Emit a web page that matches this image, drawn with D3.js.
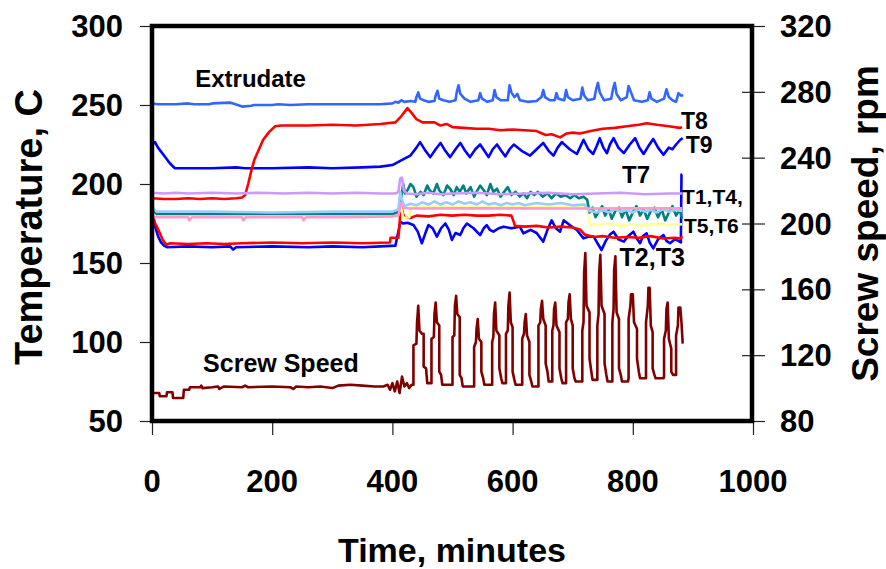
<!DOCTYPE html>
<html><head><meta charset="utf-8">
<script src="https://cdn.jsdelivr.net/npm/d3@7/dist/d3.min.js"></script>
<style>body{margin:0;background:#fff}svg{display:block}text{font-family:"Liberation Sans",Arial,sans-serif;font-weight:bold;fill:#000}</style>
</head><body><svg id="c" width="886" height="569"></svg>
<script>
// ---- data (minutes, value) ----
const xTicks = [0, 200, 400, 600, 800, 1000];
const tempTicks = [50, 100, 150, 200, 250, 300];
const speedTicks = [80, 120, 160, 200, 240, 280, 320];

const extrudate = [[0,251],[10,250.5],[40,250.5],[60,251],[70,250.5],[95,250.5],[100,251],[130,251.5],[135,251],[150,249],[165,249.5],[170,250],[200,250],[210,250.5],[230,250],[260,250.5],[300,250.5],[340,250.5],[380,250.5],[400,251],[405,252],[410,251.5],[415,253],[420,252],[430,252.5],[438,252],[440,255],[443,258],[446,254],[452,253],[460,252],[470,252.5],[472,256],[475,259],[478,254],[485,253],[495,252],[505,253],[507,258],[510,262.5],[513,257],[520,254],[530,252],[543,253],[546,257.5],[549,254],[558,252],[567,253],[570,259.5],[573,255],[580,253],[592,253],[595,262.5],[598,258],[603,255],[608,257],[612,253],[625,252],[640,252.5],[648,255],[651,259.5],[654,255],[662,253],[670,253],[673,257.5],[676,254],[686,253],[689,259.5],[692,255],[700,253],[713,254],[716,261],[719,256],[725,253],[736,254],[739,260],[742,264],[745,258],[752,253],[764,254],[767,260],[770,264],[773,257],[780,253],[790,255],[793,262],[797,258],[802,253],[815,252],[825,253],[828,258],[831,254],[840,252],[852,254],[856,260],[860,255],[866,253],[872,252],[876,257.5],[880,256],[884,256]];

const t8 = [[0,191],[20,190.5],[40,190.5],[60,191],[80,190.5],[100,191],[120,190.5],[140,191],[150,191.5],[155,193],[160,200],[165,208],[170,215],[178,222],[185,228],[195,233],[205,236.5],[215,237],[260,237],[300,237.5],[340,237],[380,238],[405,239],[415,243],[425,248],[432,245],[440,241],[450,239],[470,239],[480,237],[490,238],[500,236],[518,235.5],[540,235],[560,235],[580,234],[600,234.5],[620,234],[640,233.5],[655,231],[665,231.5],[679,229.5],[690,232],[700,232.5],[712,232],[730,233.5],[750,235],[770,235.5],[790,236.5],[810,237.5],[823,238.5],[840,237.5],[860,236.5],[878,235.5],[882,236]];

const t9 = [[0,221],[2,226],[5,226.5],[10,223],[20,218],[30,213],[38,210],[60,210],[100,210],[140,210.5],[155,210],[200,210],[260,210.5],[300,210],[350,210.5],[380,211],[400,212],[410,214],[420,216],[430,218],[440,223],[446,226.5],[455,221],[463,217],[472,222],[480,226],[488,221],[496,217],[505,222],[513,226],[521,221],[529,217],[538,222],[546,225],[553,221],[560,217],[567,222],[574,225],[581,221],[588,217.5],[595,222],[602,225],[615,221],[629,218],[640,222],[651,226],[660,221],[668,218],[675,223],[682,226.5],[695,222],[707,219],[712,223],[718,228],[726,222],[734,219],[740,224],[745,229],[751,223],[757,219.5],[762,225],[768,229],[776,223],[785,219.5],[795,225],[804,229],[811,223],[818,219],[826,224],[834,228.5],[842,223],[851,218.5],[860,223],[866,222],[872,225],[879,228],[883,229]];

const t7 = [[0,194.5],[20,194],[40,194.5],[60,194],[100,194.5],[140,194],[180,194.5],[220,194],[260,194.5],[300,194],[340,194.5],[380,194],[405,194],[410,195],[413,203.5],[416,204],[419,196],[424,194],[440,193.5],[460,194.5],[480,193.5],[500,194],[540,194.5],[580,193.5],[620,194],[660,194.5],[700,193.5],[740,194],[780,194.5],[820,193.5],[860,194],[882,194]];

const t1 = [[0,187],[3,183],[8,181],[100,181],[200,181],[300,181],[400,181],[408,182],[412,186],[415,192],[418,200],[421,194],[425,196],[430,200],[435,198],[440,192],[447,195],[452,193],[458,199],[462,196],[468,194],[474,200],[478,196],[485,193],[491,199],[496,197],[502,193],[507,198],[512,195],[518,199],[523,194],[530,198],[536,192],[540,195],[546,199],[552,196],[557,193],[563,200],[568,195],[574,197],[580,192],[586,195],[592,198],[598,193],[605,195],[612,192],[618,194],[624,191],[630,195],[636,193],[642,195],[650,192],[658,194],[665,191],[672,194],[680,192],[688,193],[696,191],[703,193],[710,191],[718,192],[724,190],[728,182],[733,185],[738,179],[744,183],[749,186],[754,180],[760,184],[765,178],[771,183],[777,185],[782,179],[788,184],[794,177],[800,182],[806,186],[812,180],[818,184],[824,178],[830,183],[836,185],[842,179],[848,184],[854,177],[860,182],[866,186],[872,180],[878,184],[882,178]];

const t4 = [[0,186],[3,184],[8,182.5],[100,182.5],[200,182],[300,182.5],[400,182.5],[410,184],[413,195],[416,190],[420,186],[430,187.5],[440,186.5],[450,188.5],[460,187],[470,189],[480,187],[490,188.5],[500,187],[510,189],[520,187.5],[530,188.5],[540,187],[550,189],[560,187],[570,188],[580,186.5],[590,188],[600,187],[610,188],[620,186.5],[640,188],[660,187],[680,188],[700,186.5],[720,187],[727,183],[740,182],[750,183.5],[760,182],[770,184],[780,182.5],[790,183.5],[800,182],[810,184],[820,182.5],[830,183.5],[840,182],[850,184],[860,182.5],[870,183.5],[882,183]];

const t5 = [[0,179],[60,179],[62,177],[66,179],[150,179],[152,177],[156,179],[250,179],[252,177],[256,179],[330,179],[400,179.5],[410,180],[414,188],[418,185],[430,184.5],[500,184.6],[600,184.6],[700,184.5],[800,184.6],[882,184.6]];

const t6 = [[0,181],[100,180.5],[200,181],[300,180.5],[400,181],[410,182],[414,186],[418,178.5],[428,179],[432,185.5],[500,185.5],[600,185.5],[700,185.5],[724,185],[728,175],[740,174],[760,175],[780,173.5],[800,174.5],[820,173.5],[840,175],[860,174],[882,174.5]];

const t2 = [[0,179],[4,176],[8,173],[14,168],[18,164.5],[24,161.5],[30,162.5],[60,162],[90,162.5],[120,162],[150,162.5],[200,163],[250,162.5],[300,163],[350,162.5],[396,163],[397,166],[410,166],[412,175],[414,188],[417,182],[420,179],[430,178.5],[440,180],[460,179.5],[480,180.5],[500,180],[520,180.5],[540,180],[560,180],[580,180.5],[598,180],[601,177],[604,173.5],[620,173],[640,173.5],[660,172.5],[680,173],[700,172.5],[713,171],[720,168],[735,166.5],[750,167],[770,166],[790,166.5],[810,166],[830,167],[850,165.5],[870,166],[880,165.5],[882,167]];

const t3 = [[0,182],[3,178],[6,172],[10,167],[15,163],[20,161],[25,160],[60,160.5],[100,160],[130,160.5],[135,158.5],[140,160],[200,160.5],[260,160],[300,160.5],[350,160],[380,160.5],[405,161],[410,170],[413,176],[418,175],[425,175.5],[435,174],[442,170],[449,162.5],[454,168],[460,174],[467,172],[474,166.7],[481,172],[488,175],[494,171],[499,164.6],[505,169],[513,167.7],[518,172],[524,175],[535,172],[546,167.7],[552,172],[557,174],[562,171],[568,169.8],[577,172],[585,173],[598,172],[612,173],[618,168.8],[630,171],[640,169],[651,163.5],[658,171],[665,177],[672,172],[679,169.8],[685,177],[695,174],[707,170.9],[718,165.6],[727,166.7],[735,166.7],[742,162],[748,158.2],[755,164],[762,168],[768,169.8],[776,165],[785,163.5],[792,167],[801,169.8],[806,166],[812,162.5],[817,167],[823,168.8],[828,163],[834,159.3],[842,165],[851,167.7],[856,164],[862,162.5],[870,165],[876,164],[880,163],[881,206],[882,206]];

const screwSpeed = [[0,97],[12,97],[13,95],[24,95],[25,97.5],[34,97.5],[35,94],[52,94],[53,99],[62,99],[63,100.5],[80,100.5],[82,101.5],[84,100],[100,100.5],[110,101],[112,99.5],[120,101],[150,100.5],[155,101.5],[160,100.5],[200,101],[230,100.5],[235,99.5],[240,101],[260,100.5],[280,101],[300,100],[310,101.5],[330,102],[350,101.5],[370,101],[385,101],[392,102],[396,99],[400,103],[404,98],[408,104],[412,97],[416,107],[420,101],[424,103],[428,100],[432,102],
[435,102],[435,126],[440,127],[441,140],[443,150],[445,135],[449,133],[452,133],[452,113],[456,112],[458,103],[464,103],
[465,103],[465,130],[469,131],[470,145],[472,152],[474,140],[478,138],[478,110],[481,108],[483,102],[499,102],
[500,102],[500,131],[503,132],[504,150],[506,156],[508,145],[512,143],[512,108],[515,106],[517,101],[535,101],
[536,101],[536,125],[539,128],[540,136],[542,142],[544,130],[548,128],[548,110],[551,106],[553,102],[565,102],
[566,102],[566,128],[568,131],[569,145],[571,152],[573,135],[578,132],[578,112],[581,106],[583,103],[588,103],
[589,103],[589,133],[592,135],[593,150],[595,158],[597,140],[600,137],[600,110],[603,105],[605,102],[615,102],
[616,102],[616,130],[619,133],[620,140],[622,145],[624,132],[628,128],[628,108],[631,104],[633,101],[642,101],
[643,101],[643,138],[646,140],[647,148],[649,153],[651,142],[655,138],[655,115],[658,110],[660,104],[665,104],
[666,104],[666,135],[668,138],[669,148],[671,152],[673,138],[678,134],[678,112],[681,106],[683,103],[688,103],
[689,103],[689,140],[692,142],[693,152],[695,157],[697,142],[700,138],[700,112],[703,106],[705,104],[715,104],
[716,104],[716,135],[718,140],[719,170],[721,182],[723,150],[728,146],[728,118],[731,110],[733,105],[740,105],
[741,105],[741,138],[743,145],[744,170],[746,181],[748,150],[753,145],[753,115],[756,108],[758,104],[765,104],
[766,104],[766,140],[768,148],[769,172],[771,180],[773,146],[777,142],[777,112],[780,108],[782,104],[792,104],
[793,106],[793,142],[796,150],[797,157],[800,157],[802,140],[807,136],[807,118],[810,110],[812,106],[821,106],
[822,106],[822,140],[825,150],[826,161],[828,161],[830,138],[833,134],[833,112],[836,108],[838,106],[851,106],
[852,107],[852,130],[855,135],[856,148],[858,152],[860,130],[864,124],[864,110],[867,108],[871,108],
[872,108],[872,132],[875,138],[876,149],[879,149],[881,140],[883,127]];

// series: [data, colour, axis]
const series = [
  [extrudate, "#3366FF", "t"],
  [t9, "#0000FF", "t"],
  [t8, "#FF0000", "t"],
  [t3, "#0000FF", "t"],
  [t2, "#FF0000", "t"],
  [t6, "#FFFF99", "t"],
  [t1, "#008080", "t"],
  [t4, "#99CCFF", "t"],
  [t5, "#FF99CC", "t"],
  [t7, "#CC99FF", "t"],
  [screwSpeed, "#800000", "s"]
];

// annotation labels: [text, minute, temperature(baseline), font size]
const labels = [
  ["Extrudate", 72, 261.4, 24],
  ["T8", 880, 235, 23],
  ["T9", 888, 219.5, 23],
  ["T7", 782, 200.5, 24],
  ["T1,T4,", 882, 187.3, 21],
  ["T5,T6", 885, 169, 21],
  ["T2,T3", 778, 148, 25],
  ["Screw Speed", 85, 81, 25]
];

// ---- layout ----
const L = 152, R = 752, T = 26, B = 421;
const svg = d3.select("#c");
const x = d3.scaleLinear().domain([0, 1000]).range([L, 753]);
const yT = d3.scaleLinear().domain([50, 300]).range([B, T]);
const yS = d3.scaleLinear().domain([80, 320]).range([B, T]);

for (const [data, col, ax] of series) {
  const ys = ax === "t" ? yT : yS;
  svg.append("path").datum(data)
    .attr("fill", "none").attr("stroke", col).attr("stroke-width", 2.6)
    .attr("stroke-linejoin", "round")
    .attr("d", d3.line().x(d => x(d[0])).y(d => ys(d[1])));
}

// axes
const gx = svg.append("g").attr("transform", `translate(0,${B + 2})`)
  .call(d3.axisBottom(x).tickValues(xTicks).tickSize(12).tickFormat(""));
const gl = svg.append("g").attr("transform", `translate(${L - 2},0)`)
  .call(d3.axisLeft(yT).tickValues(tempTicks).tickSize(10).tickFormat(""));
const gr = svg.append("g").attr("transform", `translate(${R - 10},0)`)
  .call(d3.axisRight(yS).tickValues(speedTicks).tickSize(23).tickFormat(""));
[gx, gl, gr].forEach(g => { g.select(".domain").remove(); g.selectAll("line").attr("stroke", "#222").attr("stroke-width", 1.2); });

svg.append("rect").attr("x", L).attr("y", T).attr("width", R - L).attr("height", B - T)
  .attr("fill", "none").attr("stroke", "#000").attr("stroke-width", 4.5);

// tick labels
svg.selectAll(".xl").data(xTicks).enter().append("text")
  .attr("x", d => x(d)).attr("y", 492).attr("text-anchor", "middle")
  .attr("font-size", 31).text(d => d);
svg.selectAll(".yl").data(tempTicks).enter().append("text")
  .attr("x", 123).attr("y", d => yT(d) + 11).attr("text-anchor", "end")
  .attr("font-size", 31).text(d => d);
svg.selectAll(".yr").data(speedTicks).enter().append("text")
  .attr("x", 780).attr("y", d => yS(d) + 11).attr("text-anchor", "start")
  .attr("font-size", 31).text(d => d);

// titles
svg.append("text").attr("x", 452).attr("y", 562).attr("text-anchor", "middle")
  .attr("font-size", 34).text("Time, minutes");
svg.append("text").attr("transform", "translate(42,227) rotate(-90)").attr("text-anchor", "middle")
  .attr("font-size", 38).text("Temperature, C");
svg.append("text").attr("transform", "translate(878,223.5) rotate(-90)").attr("text-anchor", "middle")
  .attr("font-size", 37).text("Screw speed, rpm");

// annotations
for (const [t, m, v, fs] of labels) {
  svg.append("text").attr("x", x(m)).attr("y", yT(v)).attr("font-size", fs).text(t);
}
</script></body></html>
